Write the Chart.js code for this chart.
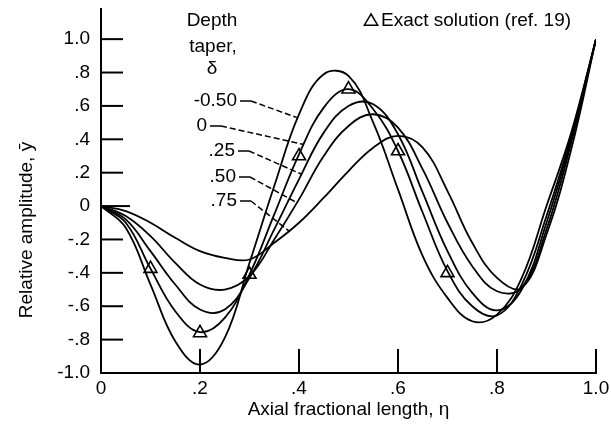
<!DOCTYPE html>
<html><head><meta charset="utf-8">
<script src="https://cdn.jsdelivr.net/npm/chart.js@4.4.1/dist/chart.umd.min.js"></script>
<style>html,body{margin:0;padding:0;background:#fff;}#wrap{width:611px;height:436px;position:relative;}</style>
</head><body><div id="wrap"><canvas id="c" width="611" height="436"></canvas></div>
<script>
// ---- data ----
const eta = [0, 0.05, 0.1, 0.15, 0.2, 0.25, 0.3, 0.35, 0.4, 0.45, 0.5, 0.55, 0.6, 0.65, 0.7, 0.75, 0.8, 0.85, 0.9, 0.95, 1.0];
const deltaLabels = ['-0.50', '0', '.25', '.50', '.75'];
const yDeltaMinus050 = [0, -0.13, -0.47, -0.81, -0.95, -0.79, -0.34, 0.12, 0.55, 0.79, 0.78, 0.50, 0.10, -0.30, -0.55, -0.69, -0.65, -0.43, 0.00, 0.44, 1.00];
const yDelta000 = [0, -0.10, -0.375, -0.63, -0.755, -0.67, -0.41, -0.05, 0.31, 0.59, 0.70, 0.58, 0.33, -0.04, -0.39, -0.60, -0.655, -0.47, -0.06, 0.42, 1.00];
const yDelta025 = [0, -0.08, -0.27, -0.47, -0.62, -0.62, -0.43, -0.14, 0.16, 0.44, 0.60, 0.61, 0.43, 0.08, -0.27, -0.52, -0.625, -0.50, -0.10, 0.40, 1.00];
const yDelta050 = [0, -0.06, -0.18, -0.34, -0.47, -0.50, -0.42, -0.20, 0.04, 0.30, 0.48, 0.55, 0.47, 0.22, -0.10, -0.36, -0.51, -0.49, -0.14, 0.38, 1.00];
const yDelta075 = [0, -0.03, -0.10, -0.19, -0.27, -0.31, -0.32, -0.22, -0.10, 0.05, 0.21, 0.35, 0.42, 0.35, 0.09, -0.22, -0.43, -0.49, -0.17, 0.34, 1.00];
const exactEta = [0.1, 0.2, 0.3, 0.4, 0.5, 0.6, 0.7];
const exactY = [-0.375, -0.76, -0.41, 0.30, 0.70, 0.33, -0.40];
const xTickValues = [0, 0.2, 0.4, 0.6, 0.8, 1.0];
const xTickLabels = ['0', '.2', '.4', '.6', '.8', '1.0'];
const yTickValues = [-1.0, -0.8, -0.6, -0.4, -0.2, 0, 0.2, 0.4, 0.6, 0.8, 1.0];
const yTickLabels = ['-1.0', '-.8', '-.6', '-.4', '-.2', '0', '.2', '.4', '.6', '.8', '1.0'];
// where each legend leader line meets its curve (data coords)
const leaderEta = [0.396, 0.408, 0.406, 0.396, 0.38];
const leaderY = [0.53, 0.37, 0.19, 0.02, -0.15];

const FONT = '"Liberation Sans", Arial, sans-serif';
const series = [yDeltaMinus050, yDelta000, yDelta025, yDelta050, yDelta075];

const datasets = series.map((ys, i) => ({
  label: 'δ = ' + deltaLabels[i],
  data: eta.map((e, k) => ({x: e, y: ys[k]})),
  borderColor: '#000', borderWidth: 1.8, pointRadius: 0, tension: 0.4, fill: false
}));
datasets.push({
  label: 'Exact solution (ref. 19)',
  data: exactEta.map((e, k) => ({x: e, y: exactY[k]})),
  showLine: false, pointStyle: 'triangle', pointRadius: 7.5,
  pointBackgroundColor: '#fff', pointBorderColor: '#000', pointBorderWidth: 1.6
});

const annot = {
  id: 'annot',
  afterDraw(chart) {
    const ctx = chart.ctx, xs = chart.scales.x, ys = chart.scales.y, a = chart.chartArea;
    ctx.save();
    ctx.strokeStyle = '#000'; ctx.fillStyle = '#000'; ctx.lineWidth = 2;
    // inward tick marks
    xTickValues.forEach(v => {
      if (v === 0) return;
      const px = xs.getPixelForValue(v);
      ctx.beginPath(); ctx.moveTo(px, a.bottom); ctx.lineTo(px, a.bottom - 24); ctx.stroke();
    });
    yTickValues.forEach(v => {
      const py = ys.getPixelForValue(v);
      ctx.beginPath(); ctx.moveTo(a.left, py); ctx.lineTo(a.left + (v === 0 ? 29 : 22), py); ctx.stroke();
    });
    // y title
    ctx.font = '19px ' + FONT;
    ctx.textAlign = 'center'; ctx.textBaseline = 'middle';
    ctx.save(); ctx.translate(27, 230); ctx.rotate(-Math.PI / 2);
    ctx.fillText('Relative amplitude, ȳ', 0, 0); ctx.restore();
    // legend heading
    ctx.fillText('Depth', 212, 21);
    ctx.fillText('taper,', 213, 47);
    ctx.fillText('δ', 212, 69);
    // delta labels + leaders
    const labRight = [237, 207, 235, 236, 237];
    const labY = [101, 126, 151, 177, 201];
    ctx.textAlign = 'right';
    ctx.lineWidth = 1.5;
    deltaLabels.forEach((t, i) => {
      ctx.fillText(t, labRight[i], labY[i]);
      const sx = labRight[i] + 3, sy = labY[i];
      const mx = sx + 11;
      ctx.setLineDash([]);
      ctx.beginPath(); ctx.moveTo(sx, sy); ctx.lineTo(mx, sy); ctx.stroke();
      ctx.setLineDash([6, 3]);
      ctx.beginPath(); ctx.moveTo(mx, sy);
      ctx.lineTo(xs.getPixelForValue(leaderEta[i]), ys.getPixelForValue(leaderY[i])); ctx.stroke();
    });
    ctx.setLineDash([]);
    // exact-solution legend
    const tx = 371, ty = 21, r = 7;
    ctx.lineWidth = 1.5;
    ctx.beginPath();
    ctx.moveTo(tx, ty - r); ctx.lineTo(tx + r * 0.95, ty + r * 0.6); ctx.lineTo(tx - r * 0.95, ty + r * 0.6); ctx.closePath();
    ctx.stroke();
    ctx.textAlign = 'left';
    ctx.fillText('Exact solution (ref. 19)', 381, 21);
    ctx.restore();
  }
};

new Chart(document.getElementById('c'), {
  type: 'line',
  data: {datasets},
  options: {
    responsive: false, animation: false, devicePixelRatio: 1,
    layout: {padding: {top: 7, right: 15, left: 0, bottom: 0}},
    plugins: {legend: {display: false}, tooltip: {enabled: false}},
    scales: {
      x: {
        type: 'linear', min: 0, max: 1,
        afterBuildTicks: (s) => { s.ticks = xTickValues.map(v => ({value: v})); },
        afterFit: (s) => { s.height = 63; s.paddingLeft = 0; s.paddingRight = 0; },
        ticks: {color: '#000', font: {size: 19, family: FONT}, padding: 4, maxRotation: 0,
          callback: (v, i) => xTickLabels[i]},
        grid: {display: true, drawOnChartArea: false, drawTicks: false},
        border: {display: true, color: '#000', width: 2},
        title: {display: true, text: 'Axial fractional length, η', color: '#000',
          font: {size: 19, family: FONT}, padding: {top: 0, bottom: 15}}
      },
      y: {
        type: 'linear', min: -1, max: 1.18,
        afterBuildTicks: (s) => { s.ticks = yTickValues.map(v => ({value: v})); },
        afterFit: (s) => { s.width = 101; s.paddingTop = 0; s.paddingBottom = 0; },
        ticks: {color: '#000', font: {size: 19, family: FONT}, padding: 11,
          callback: (v, i) => yTickLabels[i]},
        grid: {display: true, drawOnChartArea: false, drawTicks: false},
        border: {display: true, color: '#000', width: 2}
      }
    }
  },
  plugins: [annot]
});
</script></body></html>
